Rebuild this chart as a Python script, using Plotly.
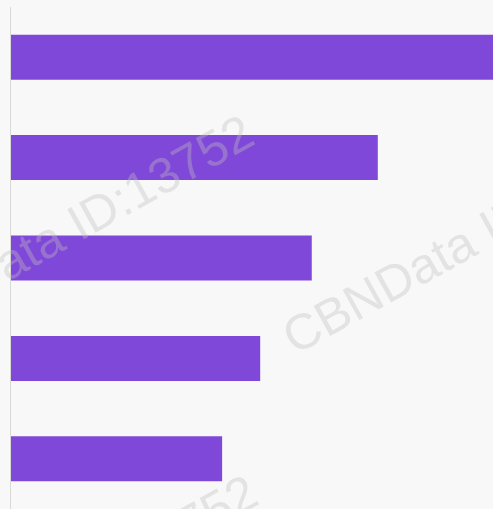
import plotly.graph_objects as go

categories = ["Item 1", "Item 2", "Item 3", "Item 4", "Item 5"]
values = [110.0, 76.1, 62.4, 51.7, 43.8]

W, H = 493, 509
ML, MR, MT, MB = 11, 0, 7, 0
PW, PH = W - ML - MR, H - MT - MB

def px_to_paper(px, py):
    return (px - ML) / PW, (H - MB - py) / PH

fig = go.Figure(go.Bar(
    x=values, y=categories, orientation="h",
    marker=dict(color="#8048d8", line=dict(width=0)),
    hoverinfo="skip",
))

wm_text = "CBNData ID:13752"
wm_centers = [(62, 232), (474, 237), (66, 592), (474, -122)]
annotations = []
for cx, cy in wm_centers:
    ax, ay = px_to_paper(cx, cy)
    annotations.append(dict(
        x=ax, y=ay, xref="paper", yref="paper", text=wm_text,
        showarrow=False, textangle=-29, xanchor="center", yanchor="middle",
        font=dict(family="Liberation Sans, Arial, sans-serif", size=50,
                  color="rgba(190,190,190,0.36)"),
    ))

fig.update_layout(
    width=W, height=H,
    margin=dict(l=ML, r=MR, t=MT, b=MB, pad=0),
    paper_bgcolor="#f8f8f8", plot_bgcolor="#f8f8f8",
    bargap=0.552,
    showlegend=False,
    annotations=annotations,
    xaxis=dict(range=[0, 100], showgrid=False, zeroline=False,
               showticklabels=False, showline=False, ticks=""),
    yaxis=dict(autorange="reversed", showgrid=False, zeroline=False,
               showticklabels=False, showline=True, linecolor="#d9d9d9",
               linewidth=1, ticks=""),
)

fig.write_html(
    "out.html",
    config={"displayModeBar": False},
    post_script="document.body.style.margin='0';document.body.style.padding='0';"
                "document.body.style.background='#f8f8f8';",
)
